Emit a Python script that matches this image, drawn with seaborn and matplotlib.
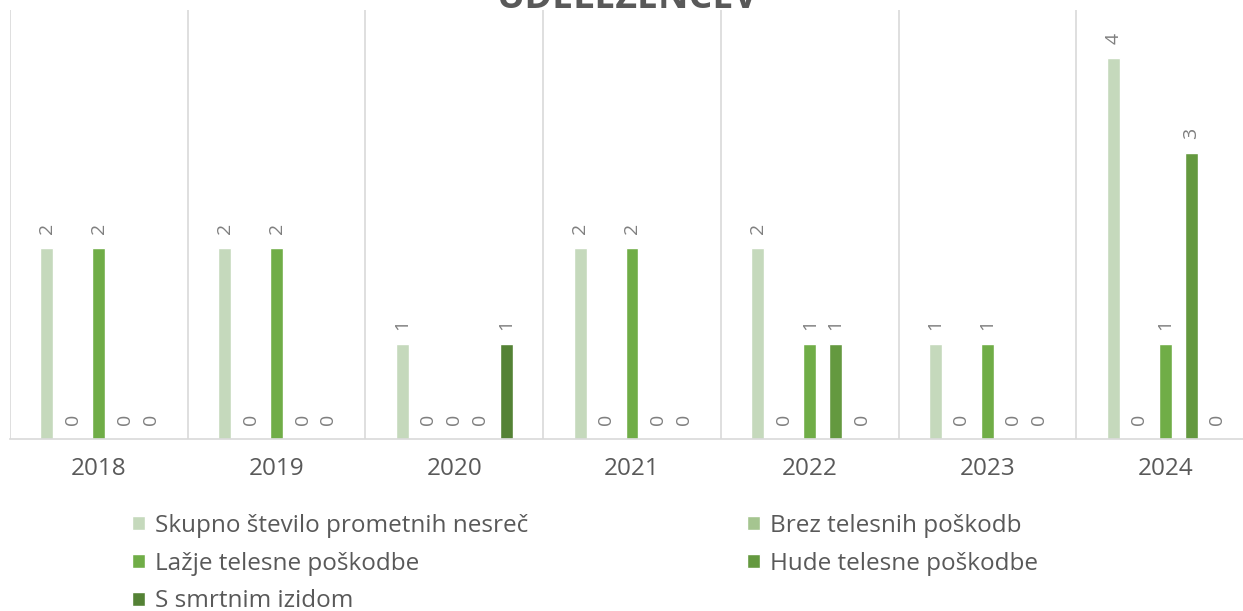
import numpy as np
import pandas as pd
import matplotlib
matplotlib.use("Agg")
import matplotlib.pyplot as plt
import seaborn as sns

# podatki
leta = ["2018", "2019", "2020", "2021", "2022", "2023", "2024"]
serije = ["Skupno število prometnih nesreč", "Brez telesnih poškodb",
          "Lažje telesne poškodbe", "Hude telesne poškodbe", "S smrtnim izidom"]
skupno = [2, 2, 1, 2, 2, 1, 4]
brez = [0, 0, 0, 0, 0, 0, 0]
lazje = [2, 2, 0, 2, 1, 1, 1]
hude = [0, 0, 0, 0, 1, 0, 3]
smrtni = [0, 0, 1, 0, 0, 0, 0]
barve = ["#C5D9BC", "#A5C590", "#70AD47", "#64993F", "#548235"]

vrednosti = [skupno, brez, lazje, hude, smrtni]
df = pd.DataFrame({
    "leto": np.tile(leta, len(serije)),
    "serija": np.repeat(serije, len(leta)),
    "st": np.concatenate(vrednosti),
})

sns.set_style("white")
plt.rcParams['font.family'] = ['Open Sans', 'DejaVu Sans']

fig = plt.figure(figsize=(12.43, 6.11), dpi=100)
ax = fig.add_axes([10/1243, 1 - 439/611, 1244/1243, 429/611])

sns.barplot(data=df, x="leto", y="st", hue="serija", hue_order=serije,
            palette=dict(zip(serije, barve)), width=0.73, gap=0.5,
            legend=False, ax=ax, saturation=1)

for c in ax.containers:
    ax.bar_label(c, fmt="%d", rotation=90, padding=10, fontsize=14, color="#7F7F7F")

ax.set_ylim(0, 4.5)
ax.set_xlim(-0.5, 6.5)
for x in np.arange(-0.5, 7, 1):
    ax.axvline(x, color="#D9D9D9", lw=1.2, zorder=0)
ax.set_yticks([])
ax.set_xlabel("")
ax.set_ylabel("")
for s in ["top", "left", "right"]:
    ax.spines[s].set_visible(False)
ax.spines["bottom"].set_color("#D9D9D9")
ax.spines["bottom"].set_linewidth(1.2)
ax.tick_params(axis="x", length=0, pad=13, labelsize=17.5, labelcolor="#595959")

# legenda po vrsticah
vrstni_red = [0, 2, 4, 1, 3]
ax.legend([ax.containers[i] for i in vrstni_red], [serije[i] for i in vrstni_red],
          ncol=2, loc="upper left", bbox_to_anchor=(122/1243, 1 - 504/611),
          bbox_transform=fig.transFigure, frameon=False, fontsize=17.5,
          handlelength=0.55, handleheight=0.55, handletextpad=0.4,
          columnspacing=9.0, labelspacing=0.57, labelcolor="#595959",
          borderaxespad=0)

fig.text(0.505, 1 - 8/611, "UDELEŽENCEV", ha="center", va="baseline",
         fontsize=27, fontweight="bold", color="#595959")

fig.savefig("out.png", dpi=100)
